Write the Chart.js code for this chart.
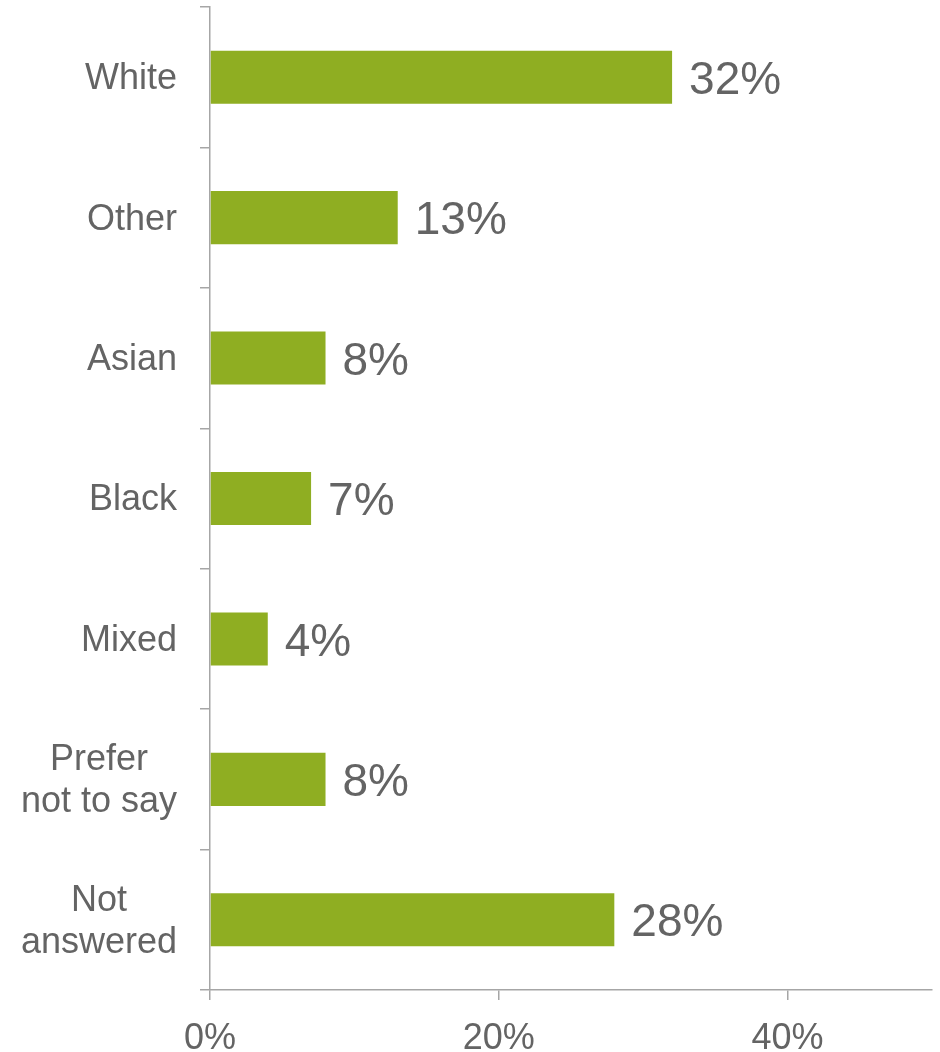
<!DOCTYPE html>
<html>
<head>
<meta charset="utf-8">
<script src="https://cdn.jsdelivr.net/npm/chart.js@4/dist/chart.umd.min.js"></script>
<style>
  html, body { margin: 0; padding: 0; background: #fff; }
  #wrap { width: 940px; height: 1052px; position: relative; }
</style>
</head>
<body>
<div id="wrap"><canvas id="ethnicity-chart"></canvas></div>
<script>
// Survey responses by ethnicity (percent)
var categories = ['White', 'Other', 'Asian', 'Black', 'Mixed', ['Prefer', 'not to say'], ['Not', 'answered']];
var shares = [32, 13, 8, 7, 4, 8, 28];
var xTicks = [0, 20, 40];

var textColor = '#646464';
var axisColor = '#a6a6a6';
var fontFamily = '"Liberation Sans", Arial, sans-serif';

// Category names: block sits right-aligned against the axis,
// lines inside a two-line name are centred on each other
var categoryLabels = {
  id: 'categoryLabels',
  afterDraw: function (chart) {
    var ctx = chart.ctx;
    var y = chart.scales.y;
    var right = y.right - 33;
    var lineHeight = 42;
    ctx.save();
    ctx.font = '36px ' + fontFamily;
    ctx.fillStyle = textColor;
    ctx.textAlign = 'center';
    ctx.textBaseline = 'middle';
    categories.forEach(function (label, i) {
      var lines = Array.isArray(label) ? label : [label];
      var widest = Math.max.apply(null, lines.map(function (l) { return ctx.measureText(l).width; }));
      var cx = right - widest / 2;
      var cy = y.getPixelForTick(i) + 2;
      var top = cy - (lines.length - 1) * lineHeight / 2;
      lines.forEach(function (l, j) {
        ctx.fillText(l, cx, top + j * lineHeight);
      });
    });
    ctx.restore();
  }
};

// Writes the value next to the end of each bar
var barLabels = {
  id: 'barLabels',
  afterDatasetsDraw: function (chart) {
    var ctx = chart.ctx;
    var meta = chart.getDatasetMeta(0);
    ctx.save();
    ctx.font = '46px ' + fontFamily;
    ctx.fillStyle = textColor;
    ctx.textAlign = 'left';
    ctx.textBaseline = 'middle';
    meta.data.forEach(function (bar, i) {
      ctx.fillText(shares[i] + '%', bar.x + 17, bar.y + 4);
    });
    ctx.restore();
  }
};

var chart = new Chart(document.getElementById('ethnicity-chart'), {
  type: 'bar',
  data: {
    labels: categories,
    datasets: [{
      data: shares,
      backgroundColor: '#8fae22',
      borderWidth: 0,
      categoryPercentage: 1,
      barPercentage: 0.378
    }]
  },
  options: {
    indexAxis: 'y',
    animation: false,
    responsive: true,
    maintainAspectRatio: false,
    layout: { padding: { top: 7, right: 8, left: 0, bottom: 0 } },
    plugins: {
      legend: { display: false },
      tooltip: { enabled: false }
    },
    scales: {
      x: {
        min: 0,
        max: 50,
        afterBuildTicks: function (scale) {
          scale.ticks = xTicks.map(function (v) { return { value: v }; });
        },
        border: { display: true, color: axisColor, width: 1.5 },
        grid: { drawOnChartArea: false, drawTicks: true, tickLength: 10, color: axisColor, lineWidth: 1.5 },
        ticks: {
          color: textColor,
          font: { family: fontFamily, size: 36 },
          padding: 17,
          maxRotation: 0,
          callback: function (v) { return v + '%'; }
        },
        afterFit: function (scale) {
          scale.height = 62;
          scale.paddingLeft = 0;
          scale.paddingRight = 0;
        }
      },
      y: {
        border: { display: true, color: axisColor, width: 1.5 },
        grid: { drawOnChartArea: false, drawTicks: true, tickLength: 10, color: axisColor, lineWidth: 1.5, offset: true },
        ticks: {
          color: 'rgba(0,0,0,0)',
          font: { family: fontFamily, size: 36 },
          padding: 23
        },
        afterFit: function (scale) {
          scale.width = 210;
          scale.paddingTop = 0;
          scale.paddingBottom = 0;
        }
      }
    }
  },
  plugins: [barLabels, categoryLabels]
});
</script>
</body>
</html>
